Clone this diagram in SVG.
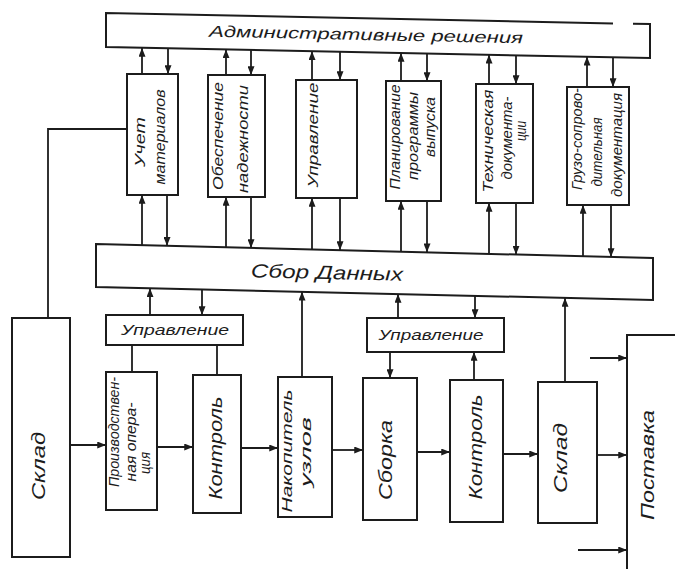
<svg xmlns="http://www.w3.org/2000/svg" width="675" height="569" viewBox="0 0 675 569">
<style>
.b{fill:none;stroke:#1c1c1c;stroke-width:2;stroke-linejoin:miter}
.c{fill:none;stroke:#1c1c1c;stroke-width:1.8}
.a{marker-end:url(#ah)}
text{font-family:"Liberation Sans","DejaVu Sans",sans-serif;font-style:italic;fill:#1c1c1c;text-anchor:middle}
.v{font-size:15px}
.l{font-size:19px}
</style>
<defs>
<marker id="ah" viewBox="0 0 10 8" refX="10" refY="4" markerWidth="9" markerHeight="7" markerUnits="userSpaceOnUse" orient="auto"><path d="M0,0 L10,4 L0,8 z" fill="#1c1c1c"/></marker>
</defs>
<rect width="675" height="569" fill="#fff"/>
<g id="admin">
<path class="b" d="M613,23.4 L106,13 L106,47 L650,58 L650,24 L633,23.7"/>
<text x="366" y="40" font-size="16" textLength="314" lengthAdjust="spacingAndGlyphs" transform="rotate(1.2,366,35)">Административные решения</text>
</g>
<g id="sbor">
<path class="b" d="M96,244 L653,258 L653,300 L96,287 Z"/>
<text x="327" y="279" font-size="19" textLength="152" lengthAdjust="spacingAndGlyphs" transform="rotate(1.4,327,272)">Сбор Данных</text>
</g>
<g id="uchet">
<rect class="b" x="127" y="74" width="51" height="121"/>
<text class="v" transform="translate(145,142) rotate(-90)" textLength="50" lengthAdjust="spacingAndGlyphs">Учет</text>
<text class="v" transform="translate(165,137) rotate(-90)" textLength="95" lengthAdjust="spacingAndGlyphs">материалов</text>
</g>
<g id="nadezh">
<rect class="b" x="208" y="75" width="57" height="122"/>
<text class="v" transform="translate(223,136) rotate(-90)" textLength="108" lengthAdjust="spacingAndGlyphs">Обеспечение</text>
<text class="v" transform="translate(248,139) rotate(-90)" textLength="108" lengthAdjust="spacingAndGlyphs">надежности</text>
</g>
<g id="uprav-top">
<rect class="b" x="296" y="80" width="61" height="118"/>
<text class="v" transform="translate(318,135) rotate(-90)" textLength="105" lengthAdjust="spacingAndGlyphs">Управление</text>
</g>
<g id="plan">
<rect class="b" x="386" y="81" width="55" height="120"/>
<text class="v" transform="translate(400,137) rotate(-90)" textLength="105" lengthAdjust="spacingAndGlyphs">Планирование</text>
<text class="v" transform="translate(418,136) rotate(-90)" textLength="88" lengthAdjust="spacingAndGlyphs">программы</text>
<text class="v" transform="translate(435,127) rotate(-90)" textLength="60" lengthAdjust="spacingAndGlyphs">выпуска</text>
</g>
<g id="tehdoc">
<rect class="b" x="476" y="84" width="57" height="119"/>
<text class="v" transform="translate(493,141) rotate(-90)" textLength="103" lengthAdjust="spacingAndGlyphs">Техническая</text>
<text class="v" transform="translate(512,138) rotate(-90)" textLength="83" lengthAdjust="spacingAndGlyphs">документа-</text>
<text class="v" transform="translate(526,131) rotate(-90)" textLength="20" lengthAdjust="spacingAndGlyphs">ции</text>
</g>
<g id="gruz">
<rect class="b" x="567" y="87" width="62" height="118"/>
<text class="v" transform="translate(582,139) rotate(-90)" textLength="102" lengthAdjust="spacingAndGlyphs">Грузо-сопрово-</text>
<text class="v" transform="translate(602,152) rotate(-90)" textLength="69" lengthAdjust="spacingAndGlyphs">дительная</text>
<text class="v" transform="translate(622,145) rotate(-90)" textLength="104" lengthAdjust="spacingAndGlyphs">документация</text>
</g>
<g id="uprav1">
<rect class="b" x="106" y="315" width="137" height="30"/>
<text x="175" y="335" font-size="15" textLength="108" lengthAdjust="spacingAndGlyphs">Управление</text>
</g>
<g id="uprav2">
<rect class="b" x="367" y="318" width="137" height="34"/>
<text x="431" y="340" font-size="15" textLength="105" lengthAdjust="spacingAndGlyphs">Управление</text>
</g>
<g id="sklad1">
<rect class="b" x="12" y="318" width="58" height="239"/>
<text class="l" transform="translate(45,466) rotate(-90)" textLength="68" lengthAdjust="spacingAndGlyphs">Склад</text>
</g>
<g id="proizv">
<rect class="b" x="106" y="372" width="51" height="138"/>
<text class="v" transform="translate(119,432) rotate(-90)" textLength="110" lengthAdjust="spacingAndGlyphs">Производствен-</text>
<text class="v" transform="translate(136,442) rotate(-90)" textLength="79" lengthAdjust="spacingAndGlyphs">ная опера-</text>
<text class="v" transform="translate(150,463) rotate(-90)" textLength="22" lengthAdjust="spacingAndGlyphs">ция</text>
</g>
<g id="kontrol1">
<rect class="b" x="193" y="375" width="48" height="138"/>
<text class="l" transform="translate(222,448) rotate(-90)" textLength="103" lengthAdjust="spacingAndGlyphs">Контроль</text>
</g>
<g id="nakop">
<rect class="b" x="278" y="377" width="54" height="140"/>
<text class="v" transform="translate(292,451) rotate(-90)" textLength="123" lengthAdjust="spacingAndGlyphs">Накопитель</text>
<text class="v" transform="translate(311,452) rotate(-90)" textLength="70" lengthAdjust="spacingAndGlyphs">узлов</text>
</g>
<g id="sborka">
<rect class="b" x="363" y="378" width="54" height="142"/>
<text class="l" transform="translate(392,460) rotate(-90)" textLength="80" lengthAdjust="spacingAndGlyphs">Сборка</text>
</g>
<g id="kontrol2">
<rect class="b" x="450" y="380" width="53" height="142"/>
<text class="l" transform="translate(482,447) rotate(-90)" textLength="105" lengthAdjust="spacingAndGlyphs">Контроль</text>
</g>
<g id="sklad2">
<rect class="b" x="538" y="382" width="59" height="141"/>
<text class="l" transform="translate(567,458) rotate(-90)" textLength="70" lengthAdjust="spacingAndGlyphs">Склад</text>
</g>
<g id="postavka">
<path class="b" d="M680,335 H627 V570"/>
<text class="l" transform="translate(654,465) rotate(-90)" textLength="110" lengthAdjust="spacingAndGlyphs">Поставка</text>
</g>
<g id="connectors">
<line class="c a" x1="142" y1="74" x2="142" y2="48"/>
<line class="c a" x1="168" y1="49" x2="168" y2="74"/>
<line class="c a" x1="226" y1="75" x2="226" y2="49.4"/>
<line class="c a" x1="251" y1="50" x2="251" y2="75"/>
<line class="c a" x1="312" y1="80" x2="312" y2="51.2"/>
<line class="c a" x1="340" y1="51.7" x2="340" y2="80"/>
<line class="c a" x1="401" y1="81" x2="401" y2="53"/>
<line class="c a" x1="427" y1="53.5" x2="427" y2="81"/>
<line class="c a" x1="489" y1="84" x2="489" y2="54.7"/>
<line class="c a" x1="516" y1="55.3" x2="516" y2="84"/>
<line class="c a" x1="587" y1="87" x2="587" y2="56.7"/>
<line class="c a" x1="613" y1="57.2" x2="613" y2="87"/>
<line class="c a" x1="142" y1="245.2" x2="142" y2="195"/>
<line class="c a" x1="167" y1="195" x2="167" y2="245.8"/>
<line class="c a" x1="226" y1="247.3" x2="226" y2="197"/>
<line class="c a" x1="251" y1="197" x2="251" y2="247.9"/>
<line class="c a" x1="312" y1="249.4" x2="312" y2="198"/>
<line class="c a" x1="340" y1="198" x2="340" y2="250.1"/>
<line class="c a" x1="401" y1="251.7" x2="401" y2="201"/>
<line class="c a" x1="427" y1="201" x2="427" y2="252.3"/>
<line class="c a" x1="489" y1="253.9" x2="489" y2="203"/>
<line class="c a" x1="516" y1="203" x2="516" y2="254.6"/>
<line class="c a" x1="583" y1="256.2" x2="583" y2="205"/>
<line class="c a" x1="611" y1="205" x2="611" y2="256.9"/>
<line class="c a" x1="150" y1="315" x2="150" y2="288.3"/>
<line class="c a" x1="202" y1="289.5" x2="202" y2="315"/>
<line class="c a" x1="302" y1="377" x2="302" y2="291.8"/>
<line class="c a" x1="398" y1="318" x2="398" y2="294"/>
<line class="c a" x1="475" y1="295.8" x2="475" y2="318"/>
<line class="c a" x1="565" y1="382" x2="565" y2="298"/>
<line class="c" x1="132" y1="345" x2="132" y2="372"/>
<line class="c" x1="217" y1="345" x2="217" y2="375"/>
<line class="c a" x1="390" y1="352" x2="390" y2="378"/>
<line class="c a" x1="474" y1="380" x2="474" y2="352"/>
<polyline class="c" points="48,318 48,129 127,129"/>
<line class="c a" x1="70" y1="445" x2="106" y2="445"/>
<line class="c a" x1="157" y1="447" x2="193" y2="447"/>
<line class="c a" x1="241" y1="448" x2="278" y2="448"/>
<line class="c a" x1="332" y1="450" x2="363" y2="450"/>
<line class="c a" x1="417" y1="452" x2="450" y2="452"/>
<line class="c a" x1="503" y1="454" x2="538" y2="454"/>
<line class="c a" x1="597" y1="455" x2="627" y2="455"/>
<line class="c a" x1="590" y1="358" x2="627" y2="358"/>
<line class="c a" x1="578" y1="550" x2="627" y2="550"/>
</g>
</svg>
